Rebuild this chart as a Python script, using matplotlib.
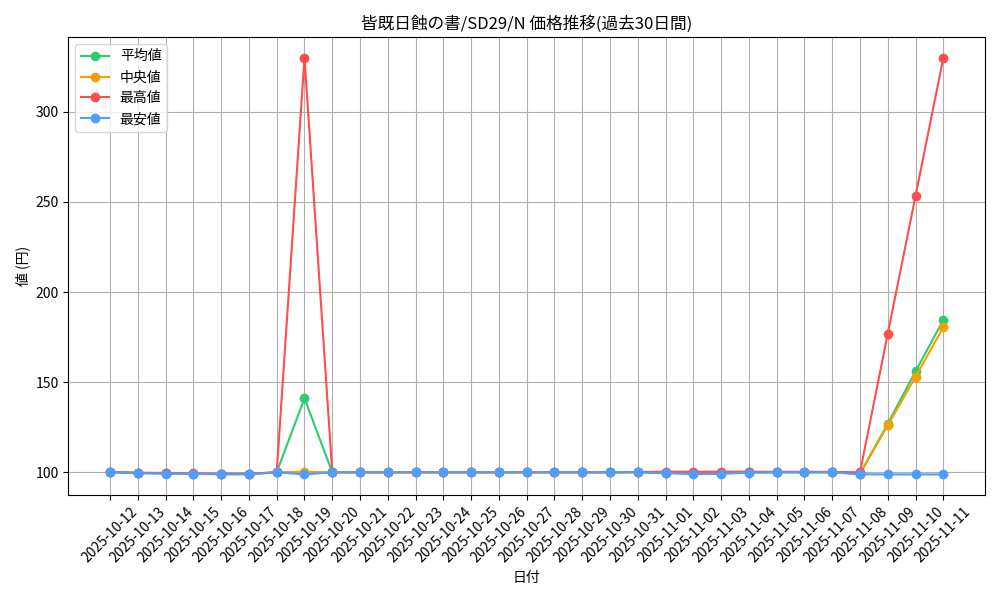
import matplotlib
matplotlib.use('Agg')
import matplotlib.pyplot as plt

plt.rcParams['font.family'] = ['Noto Sans CJK JP', 'DejaVu Sans']

# 日付 (過去30日間)
dates = ['2025-10-12', '2025-10-13', '2025-10-14', '2025-10-15', '2025-10-16',
         '2025-10-17', '2025-10-18', '2025-10-19', '2025-10-20', '2025-10-21',
         '2025-10-22', '2025-10-23', '2025-10-24', '2025-10-25', '2025-10-26',
         '2025-10-27', '2025-10-28', '2025-10-29', '2025-10-30', '2025-10-31',
         '2025-11-01', '2025-11-02', '2025-11-03', '2025-11-04', '2025-11-05',
         '2025-11-06', '2025-11-07', '2025-11-08', '2025-11-09', '2025-11-10',
         '2025-11-11']

avg_price = [100, 99.6, 99.4, 99.2, 99.0, 99.0, 100, 141, 100, 100,
             100, 100, 100, 100, 100, 100, 100, 100, 100, 100,
             99.8, 99.6, 99.6, 100, 100, 100, 100, 99.2, 127, 156,
             184.5]
median_price = [100, 99.6, 99.4, 99.2, 99.0, 99.0, 100, 100.3, 100, 100,
                100, 100, 100, 100, 100, 100, 100, 100, 100, 100,
                99.8, 99.6, 99.6, 100, 100, 100, 100, 99.2, 126, 153,
                180.5]
max_price = [100.2, 99.8, 99.6, 99.4, 99.2, 99.2, 100, 330, 100, 100,
             100, 100, 100, 100, 100, 100, 100, 100, 100, 100.2,
             100.3, 100.3, 100.3, 100.3, 100.3, 100.3, 100.2, 100, 177, 253.5,
             330]
min_price = [100, 99.5, 99.3, 99.1, 98.9, 98.9, 100, 98.8, 100, 100,
             100, 100, 100, 100, 100, 100, 100, 100, 100, 100,
             99.5, 99.0, 99.1, 99.8, 100, 100, 100, 98.9, 98.8, 98.8,
             98.8]

fig, ax = plt.subplots(figsize=(10, 6), dpi=100)

ax.plot(dates, avg_price, marker='o', color='#2ecc71', label='平均値')
ax.plot(dates, median_price, marker='o', color='#f5a000', label='中央値')
ax.plot(dates, max_price, marker='o', color='#ff4d4d', label='最高値')
ax.plot(dates, min_price, marker='o', color='#4d9eff', label='最安値')

ax.set_title('皆既日蝕の書/SD29/N 価格推移(過去30日間)')
ax.set_xlabel('日付')
ax.set_ylabel('値 (円)')
ax.grid(True)
ax.legend(loc='upper left')
plt.xticks(rotation=45)

plt.tight_layout()
plt.savefig('out.png')
